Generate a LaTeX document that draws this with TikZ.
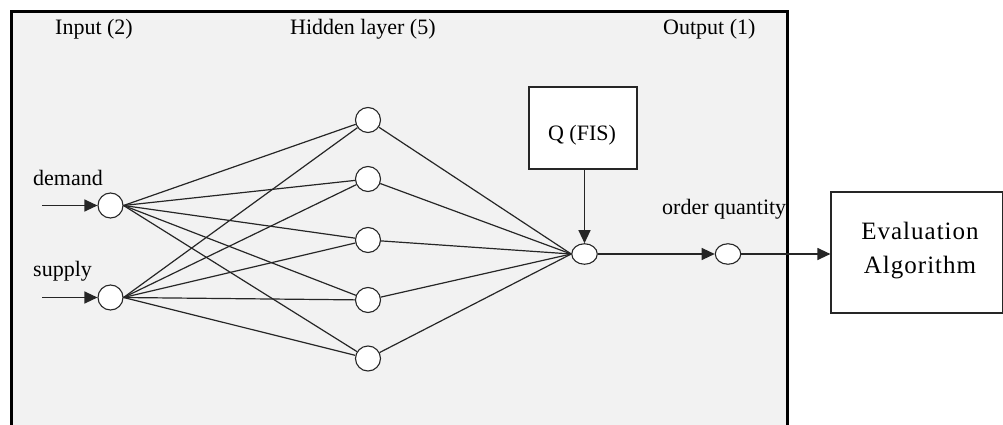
\documentclass[tikz,border=0pt]{standalone}
\usepackage{fontspec}
\setmainfont{Liberation Serif}
\newfontfamily\evalfont[LetterSpace=4]{Liberation Serif}
\usetikzlibrary{arrows.meta,shapes.geometric}
\tikzset{
  lbl/.style={font=\fontsize{22}{26}\selectfont, inner sep=0pt, anchor=base west},
  neuron/.style={circle, draw=black!85, line width=1.1pt, fill=white, minimum size=25pt, inner sep=0pt},
  oval/.style={ellipse, draw=black!85, line width=1.1pt, fill=white, minimum width=25.5pt, minimum height=20.5pt, inner sep=0pt},
  wire/.style={draw=black!85, line width=1.2pt},
  arr/.style={wire, -{Triangle[length=13pt,width=12pt]}},
  plainbox/.style={draw=black!85, line width=1.2pt, fill=white, inner sep=0pt}
}
\begin{document}
\begin{tikzpicture}[x=1pt,y=-1pt]
\useasboundingbox (0,0) rectangle (1003,425);
\clip (0,0) rectangle (1003,425);
\fill[white] (0,0) rectangle (1003,425);
% main frame
\draw[line width=2.6pt, fill=black!5] (11.3,11.3) rectangle (787.5,445);
% headers
\node[lbl] (tin) at (55,35) {Input (2)};
\node[lbl] (thid) at (290,35) {Hidden layer (5)};
\node[lbl] (tout) at (663,35) {Output (1)};
\node[lbl] (tdem) at (33,185) {demand};
\node[lbl] (tsup) at (33,276) {supply};
\node[lbl] (toq) at (662,214) {order quantity};
% nodes
\node[neuron] (d) at (110.5,205.5) {};
\node[neuron] (s) at (110.5,297.5) {};
\node[neuron] (h1) at (368,120) {};
\node[neuron] (h2) at (368,179) {};
\node[neuron] (h3) at (368,240) {};
\node[neuron] (h4) at (368,300) {};
\node[neuron] (h5) at (368,358.5) {};
\node[oval] (o) at (584.5,254) {};
\node[oval] (oq) at (728,254) {};
\node[plainbox, minimum width=108pt, minimum height=82pt] (q) at (583,128) {};
\node[font=\fontsize{22}{26}\selectfont, inner sep=0pt, anchor=base] (qt) at (582,140) {Q (FIS)};
\node[plainbox, minimum width=172pt, minimum height=121pt] (ev) at (917,252.5) {};
\node[font=\evalfont\fontsize{25}{34}\selectfont, align=center, inner sep=0pt] (evt) at (920,251) {Evaluation\\Algorithm};
% input arrows
\coordinate (din) at (42,205.5);
\coordinate (sin) at (42,297.5);
\draw[arr] (din) -- (d.west);
\draw[arr] (sin) -- (s.west);
% connections
\foreach \h in {h1,h2,h3,h4,h5}{
  \draw[wire] (d.east) -- (\h);
  \draw[wire] (s.east) -- (\h);
  \draw[wire] (\h) -- (o.west);
}
\draw[arr] (q.south -| o.north) -- (o.north);
\draw[arr] (o.east) -- (oq.west);
\draw[arr] (oq.east) -- (oq.east -| ev.west);
\end{tikzpicture}
\end{document}
